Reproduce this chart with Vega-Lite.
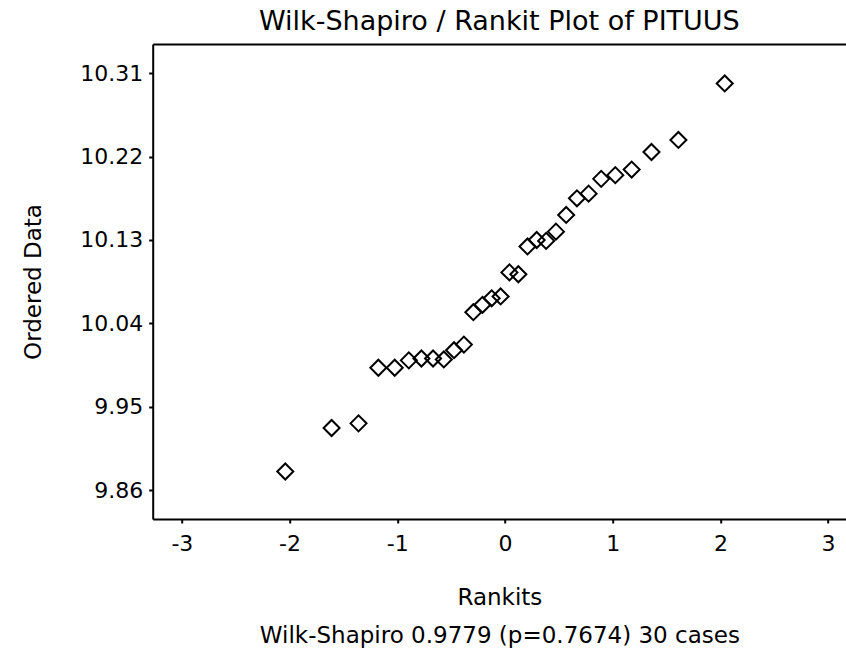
{
  "$schema": "https://vega.github.io/schema/vega-lite/v6.json",
  "width": 693.3,
  "height": 475,
  "autosize": {"type": "none"},
  "padding": {"left": 152.7, "top": 44, "right": 0, "bottom": 130},
  "title": {
    "text": "Wilk-Shapiro / Rankit Plot of PITUUS",
    "font": "DejaVu Sans",
    "fontSize": 27,
    "fontWeight": "normal",
    "color": "#000",
    "anchor": "middle",
    "offset": 8
  },
  "config": {
    "view": {"stroke": null},
    "axis": {
      "grid": false,
      "domainColor": "#000",
      "domainWidth": 2,
      "tickColor": "#000",
      "tickWidth": 2,
      "tickSize": 4,
      "labelFont": "DejaVu Sans",
      "labelFontSize": 22,
      "labelColor": "#000",
      "titleFont": "DejaVu Sans",
      "titleFontSize": 23,
      "titleFontWeight": "normal",
      "titleColor": "#000"
    }
  },
  "data": {
    "values": [
      {"rankit": -2.040, "value": 9.880},
      {"rankit": -1.610, "value": 9.927},
      {"rankit": -1.360, "value": 9.932},
      {"rankit": -1.176, "value": 9.992},
      {"rankit": -1.024, "value": 9.992},
      {"rankit": -0.893, "value": 10.000},
      {"rankit": -0.776, "value": 10.002},
      {"rankit": -0.668, "value": 10.002},
      {"rankit": -0.568, "value": 10.001},
      {"rankit": -0.473, "value": 10.011},
      {"rankit": -0.382, "value": 10.017},
      {"rankit": -0.294, "value": 10.052},
      {"rankit": -0.209, "value": 10.060},
      {"rankit": -0.124, "value": 10.067},
      {"rankit": -0.041, "value": 10.069},
      {"rankit": 0.041, "value": 10.095},
      {"rankit": 0.124, "value": 10.093},
      {"rankit": 0.209, "value": 10.123},
      {"rankit": 0.294, "value": 10.130},
      {"rankit": 0.382, "value": 10.129},
      {"rankit": 0.473, "value": 10.139},
      {"rankit": 0.568, "value": 10.157},
      {"rankit": 0.668, "value": 10.175},
      {"rankit": 0.776, "value": 10.180},
      {"rankit": 0.893, "value": 10.196},
      {"rankit": 1.024, "value": 10.200},
      {"rankit": 1.176, "value": 10.206},
      {"rankit": 1.360, "value": 10.225},
      {"rankit": 1.610, "value": 10.238},
      {"rankit": 2.040, "value": 10.299}
    ]
  },
  "encoding": {
    "y": {
      "field": "value",
      "type": "quantitative",
      "scale": {"domain": [9.8287, 10.3416], "nice": false, "zero": false},
      "axis": {
        "title": "Ordered Data",
        "values": [9.86, 9.95, 10.04, 10.13, 10.22, 10.31],
        "format": ".2f",
        "labelPadding": 6,
        "titlePadding": 34
      }
    }
  },
  "layer": [
    {
      "mark": {"type": "point", "shape": "diamond", "filled": false, "stroke": "#000", "strokeWidth": 2, "size": 256, "opacity": 1},
      "encoding": {
        "x": {
          "field": "rankit",
          "type": "quantitative",
          "scale": {"domain": [-3.271, 3.166], "nice": false, "zero": false},
          "axis": {
            "orient": "bottom",
            "title": ["Rankits", "Wilk-Shapiro 0.9779 (p=0.7674) 30 cases"],
            "titleLineHeight": 38,
            "titlePadding": 32,
            "values": [-3, -2, -1, 0, 1, 2, 3],
            "labelExpr": "replace(datum.label, '\u2212', '-')",
            "labelPadding": 10
          }
        }
      }
    },
    {
      "mark": {"type": "point", "shape": "diamond", "filled": false, "opacity": 0, "size": 1},
      "encoding": {
        "x": {
          "field": "rankit",
          "type": "quantitative",
          "axis": {
            "orient": "top",
            "title": null,
            "labels": false,
            "ticks": false,
            "domain": true
          }
        }
      }
    }
  ],
  "resolve": {"axis": {"x": "independent"}}
}
